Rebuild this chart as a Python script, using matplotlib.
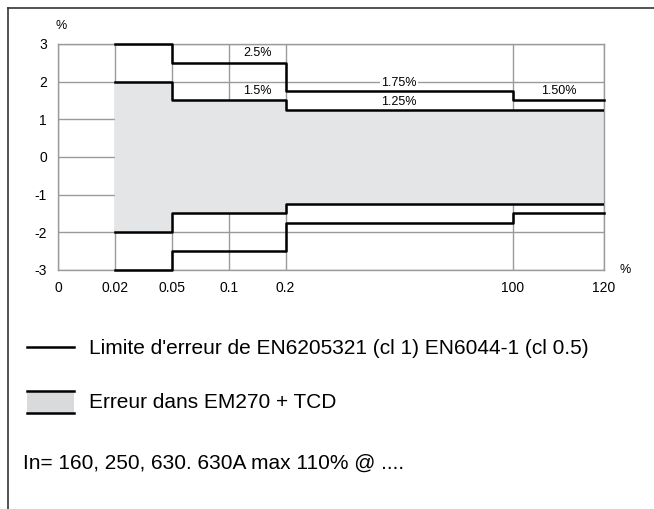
import numpy as np
import matplotlib.pyplot as plt
from matplotlib.lines import Line2D
from matplotlib.patches import Rectangle

plt.rcParams['font.family'] = ['Liberation Sans', 'DejaVu Sans']

# ---- data ----
x_labels = ['0', '0.02', '0.05', '0.1', '0.2', '100', '120']
x_pos = [0, 1, 2, 3, 4, 8, 9.6]          # categorical, uneven spacing
pos = dict(zip(x_labels, x_pos))

limit_edges = ['0.02', '0.05', '0.2', '100', '120']
limit_vals = [3, 2.5, 1.75, 1.5]          # EN limits (+/-)

em_edges = ['0.02', '0.05', '0.2', '120']
em_vals = [2, 1.5, 1.25]                  # EM270 + TCD error (+/-)

y_ticks = [-3, -2, -1, 0, 1, 2, 3]

labels = [('2.5%', '0.1', '0.2', 2.76), ('1.5%', '0.1', '0.2', 1.75),
          ('1.75%', '0.2', '100', 1.97), ('1.25%', '0.2', '100', 1.46),
          ('1.50%', '100', '120', 1.75)]

# ---- figure ----
W, H = 654, 509
fig = plt.figure(figsize=(W / 100, H / 100), dpi=100)
ax = fig.add_axes([58 / W, 1 - 270 / H, (604 - 58) / W, (270 - 44) / H])

grid_c = '#9a9a9a'
ax.set_xlim(0, 9.6)
ax.set_ylim(-3, 3)
ax.set_xticks(x_pos)
ax.set_xticklabels(x_labels)
ax.set_yticks(y_ticks)
ax.set_yticklabels([str(v) for v in y_ticks])
ax.tick_params(length=0, labelsize=10, pad=8)
ax.grid(True, color=grid_c, lw=1)
ax.set_axisbelow(True)
for s in ax.spines.values():
    s.set_color(grid_c)
    s.set_linewidth(1)

# shaded band
ex = [pos[e] for e in em_edges]
ev = em_vals + [em_vals[-1]]
ax.fill_between(ex, ev, [-v for v in ev], step='post', color='#e4e5e6', zorder=1.5)
ax.step(ex, ev, where='post', color='black', lw=1.8, zorder=3)
ax.step(ex, [-v for v in ev], where='post', color='black', lw=1.8, zorder=3)

# limit lines
lx = [pos[e] for e in limit_edges]
lv = limit_vals + [limit_vals[-1]]
ax.step(lx, lv, where='post', color='black', lw=1.8, zorder=3, clip_on=False)
ax.step(lx, [-v for v in lv], where='post', color='black', lw=1.8, zorder=3, clip_on=False)

for txt, a, b, y in labels:
    xm = (pos[a] + pos[b]) / 2
    bb = dict(facecolor='white', edgecolor='none', pad=1) if txt == '1.75%' else None
    ax.text(xm, y, txt, ha='center', va='center', fontsize=9, bbox=bb, zorder=4)

ax.text(0.006, 1.08, '%', transform=ax.transAxes, ha='center', va='center', fontsize=9)
ax.text(1.038, 0.0, '%', transform=ax.transAxes, ha='center', va='center', fontsize=9)

# ---- frame (top and left) ----
fig.add_artist(Line2D([8 / W, 8 / W], [0, 1 - 8 / H], color='#333333', lw=1.2))
fig.add_artist(Line2D([8 / W, 1], [1 - 8 / H, 1 - 8 / H], color='#333333', lw=1.2))

# ---- legend ----
fig.add_artist(Line2D([27 / W, 74 / W], [1 - 347 / H] * 2, color='black', lw=1.8))
fig.text(89 / W, 1 - 348 / H, "Limite d'erreur de EN6205321 (cl 1) EN6044-1 (cl 0.5)",
         ha='left', va='center', fontsize=15)
fig.add_artist(Rectangle((27 / W, 1 - 413 / H), 47 / W, 22 / H, facecolor='#d9dadb',
                         edgecolor='none', transform=fig.transFigure))
fig.add_artist(Line2D([27 / W, 74 / W], [1 - 391 / H] * 2, color='black', lw=1.8))
fig.add_artist(Line2D([27 / W, 74 / W], [1 - 413 / H] * 2, color='black', lw=1.8))
fig.text(89 / W, 1 - 402 / H, 'Erreur dans EM270 + TCD', ha='left', va='center', fontsize=15)
fig.text(23 / W, 1 - 463 / H, 'In= 160, 250, 630. 630A max 110% @ ....',
         ha='left', va='center', fontsize=15)

fig.savefig('out.png', dpi=100)
